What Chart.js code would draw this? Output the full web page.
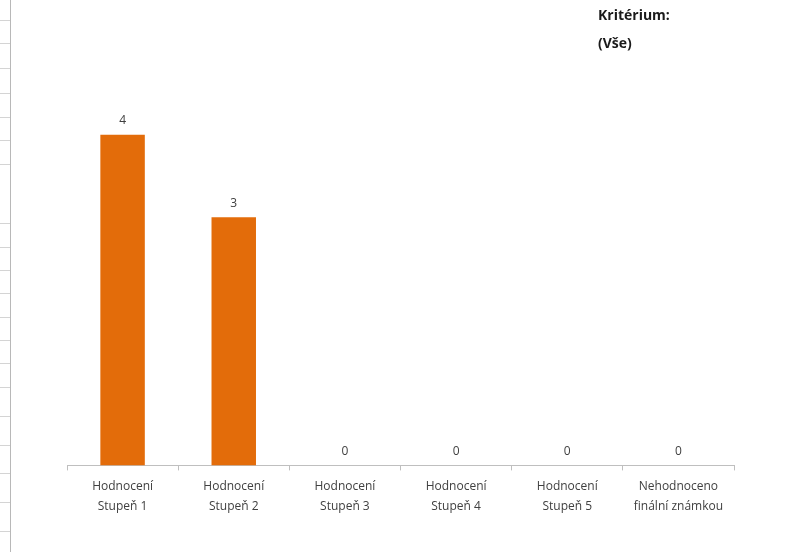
<!DOCTYPE html>
<html>
<head>
<meta charset="utf-8">
<script src="https://cdn.jsdelivr.net/npm/chart.js@4/dist/chart.umd.min.js"></script>
<style>
  html, body { margin: 0; padding: 0; background: #fff; }
  #wrap { position: relative; width: 786px; height: 552px; overflow: hidden; }
  #myChart { position: absolute; left: 0; top: 0; }
  .filtr { position: absolute; left: 598px; font: bold 14px "Open Sans", sans-serif; color: #1a1a1a; }
  .okraj { position: absolute; left: 10px; top: 0; width: 1px; height: 552px; background: #b8b8b8; }
  .radek { position: absolute; left: 0; width: 10px; height: 1px; background: #d4d4d4; }
</style>
</head>
<body>
<div id="wrap">
  <canvas id="myChart" width="786" height="552"></canvas>
  <div class="okraj"></div>
  <div class="filtr" style="top:5px">Kritérium:</div>
  <div class="filtr" style="top:33px">(Vše)</div>
</div>
<script>
// Kategorie na ose X (dva řádky popisku)
const kategorie = [
  ["Hodnocení", "Stupeň 1"],
  ["Hodnocení", "Stupeň 2"],
  ["Hodnocení", "Stupeň 3"],
  ["Hodnocení", "Stupeň 4"],
  ["Hodnocení", "Stupeň 5"],
  ["Nehodnoceno", "finální známkou"]
];
// Počty
const pocty = [4, 3, 0, 0, 0, 0];

// řádky listu vlevo (jen ozdoba)
const radkyListu = [20, 43, 68, 93, 117, 140, 164, 223, 247, 270, 293, 317, 340, 363, 387, 416, 445, 473, 502, 531];
const wrap = document.getElementById("wrap");
radkyListu.forEach(function (y) {
  const d = document.createElement("div");
  d.className = "radek";
  d.style.top = y + "px";
  wrap.appendChild(d);
});

// popisky hodnot nad sloupci
const popiskyHodnot = {
  id: "popiskyHodnot",
  afterDatasetsDraw(chart) {
    const ctx = chart.ctx;
    ctx.save();
    ctx.font = "12px 'Open Sans', sans-serif";
    ctx.fillStyle = "#404040";
    ctx.textAlign = "center";
    ctx.textBaseline = "bottom";
    chart.getDatasetMeta(0).data.forEach(function (bar, i) {
      ctx.fillText(String(pocty[i]), bar.x, bar.y - 8);
    });
    ctx.restore();
  }
};

const config = {
  type: "bar",
  data: {
    labels: kategorie,
    datasets: [
      {
        label: "Počet",
        data: pocty,
        backgroundColor: "#E36C0A",
        borderWidth: 0,
        barPercentage: 0.4,
        categoryPercentage: 1
      }
    ]
  },
  options: {
    responsive: false,
    animation: false,
    layout: {
      padding: { top: 52, left: 67, right: 52, bottom: 30 }
    },
    plugins: {
      legend: { display: false },
      tooltip: { enabled: false }
    },
    scales: {
      x: {
        grid: {
          offset: true,
          drawOnChartArea: false,
          drawTicks: true,
          tickLength: 5,
          color: "#bfbfbf"
        },
        border: { display: true, color: "#bfbfbf" },
        ticks: {
          color: "#404040",
          padding: 6,
          maxRotation: 0,
          autoSkip: false,
          font: { family: "'Open Sans', sans-serif", size: 12, lineHeight: 1.65 }
        }
      },
      y: {
        display: false,
        min: 0,
        max: 5
      }
    }
  },
  plugins: [popiskyHodnot]
};

const ctx = document.getElementById("myChart").getContext("2d");
new Chart(ctx, config);
</script>
</body>
</html>
